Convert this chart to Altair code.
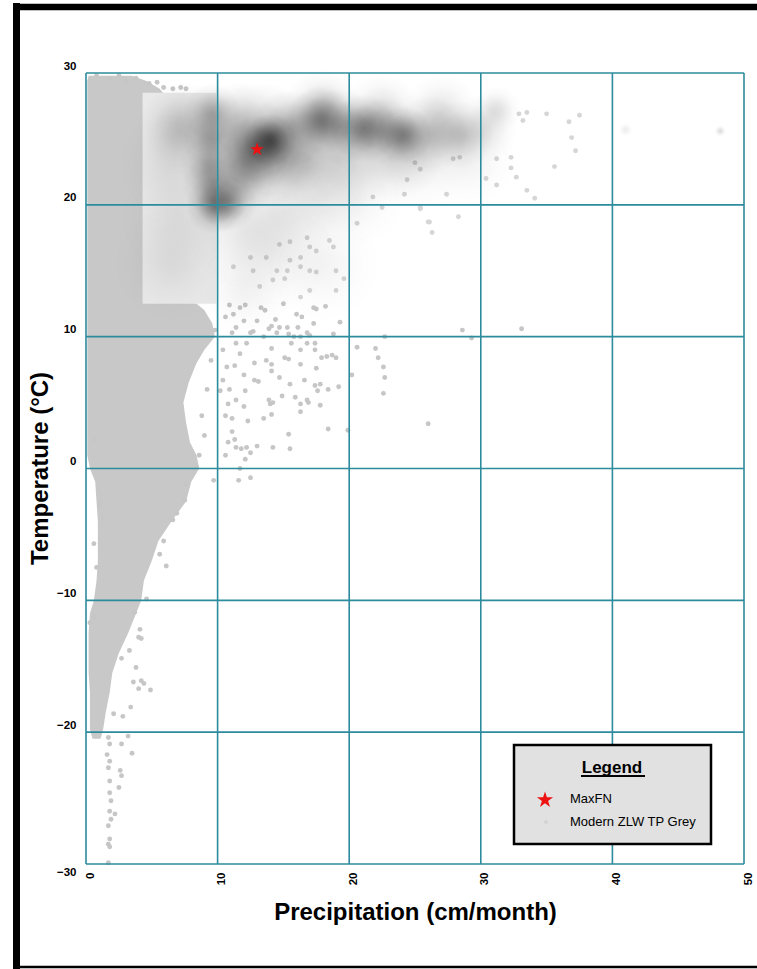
import altair as alt
import pandas as pd

# Axis ticks
precip_ticks = [0, 10, 20, 30, 40, 50]
temp_ticks = [-30, -20, -10, 0, 10, 20, 30]

# Outline of the densely sampled dry region: temperature with its min / max precipitation
core_temp = [29.8, 29.4, 28.8, 28.3, 13.0, 12.5, 12.0, 11.0, 10.0, 9.0, 8.0, 6.5, 5.0, 3.5,
             2.0, 1.0, 0.0, -1.0, -2.5, -4.0, -5.5, -7.0, -8.5, -10.0, -11.0, -12.5, -14.0,
             -15.5, -17.0, -18.5, -19.8, -20.5]
core_pmin = [0.2, 0.1, 0.1, 0.1, 0.1, 0.1, 0.1, 0.1, 0.1, 0.1, 0.1, 0.1, 0.1, 0.1,
             0.1, 0.1, 0.3, 0.7, 0.8, 0.9, 0.9, 0.9, 0.8, 0.6, 0.3, 0.2, 0.2,
             0.2, 0.3, 0.3, 0.3, 0.5]
core_pmax = [3.5, 4.6, 5.6, 6.0, 6.0, 8.4, 9.0, 9.6, 9.8, 9.0, 8.4, 7.8, 7.4, 7.6,
             7.9, 8.4, 8.6, 8.0, 7.6, 6.5, 5.5, 5.0, 4.4, 4.2, 3.8, 3.2, 2.5,
             2.0, 1.8, 1.5, 1.3, 1.1]

# Individual modern samples (precipitation, temperature)
top_edge = [(4.8, 29.2), (5.4, 29.3), (5.9, 28.9), (6.6, 28.8), (7.2, 28.9), (7.6, 28.8),
            (3.8, 29.6), (3.0, 29.4), (1.8, 29.6), (2.5, 29.8), (0.8, 29.8)]

mid_samples = [(10.9, 12.4), (11.7, 12.2), (12.1, 12.4), (13.3, 12.2), (13.6, 12.0), (15.0, 12.5),
               (16.0, 11.7), (16.4, 11.5), (17.3, 12.2), (17.5, 12.1), (18.2, 12.3), (19.3, 11.1),
               (17.3, 11.0), (14.4, 11.3), (13.0, 11.2), (12.0, 11.2), (11.2, 11.7), (10.6, 11.5),
               (11.4, 10.7), (11.1, 10.3), (12.5, 10.3), (12.7, 10.4), (13.9, 10.6), (14.1, 10.8),
               (14.7, 10.7), (15.3, 10.7), (16.1, 10.7), (16.8, 10.3), (17.0, 10.1), (15.4, 10.2),
               (14.5, 10.3), (18.8, 10.2), (13.5, 10.0), (15.8, 10.0), (16.3, 10.0), (11.4, 9.5),
               (12.2, 9.5), (15.6, 9.5), (16.8, 9.5), (17.4, 9.5), (14.1, 9.1), (16.3, 9.0),
               (17.4, 9.0), (17.9, 8.4), (18.3, 8.5), (18.7, 8.6), (19.0, 8.4), (15.1, 8.4),
               (15.4, 8.3), (11.7, 8.7), (12.8, 8.0), (13.7, 8.2), (14.1, 7.9), (16.3, 7.9),
               (17.5, 7.6), (14.1, 7.4), (10.7, 7.7), (11.3, 7.8), (14.7, 6.9), (15.5, 6.4),
               (16.6, 6.7), (17.4, 6.3), (17.8, 6.4), (17.6, 5.9), (18.4, 6.0), (19.2, 6.2),
               (12.0, 7.1), (12.1, 5.9), (12.8, 6.7), (13.1, 6.6), (10.4, 6.7), (10.9, 6.0),
               (10.2, 5.9), (11.4, 5.2), (10.8, 4.9), (13.9, 5.2), (14.0, 4.9), (14.2, 5.0),
               (14.9, 5.5), (15.9, 5.4), (16.3, 4.9), (16.8, 5.2), (16.9, 5.0), (17.8, 4.8),
               (12.0, 4.7), (16.3, 4.3), (14.1, 4.1), (13.5, 3.8), (12.3, 3.6), (11.1, 3.8),
               (10.6, 4.0), (11.1, 2.8), (15.4, 2.6), (18.4, 3.0), (10.8, 2.0), (11.3, 2.2),
               (11.4, 1.6), (11.8, 1.5), (12.2, 1.6), (12.5, 1.2), (13.0, 1.7), (14.2, 1.6),
               (15.5, 1.5), (10.6, 1.0), (12.1, 0.7), (11.7, 0.0), (11.6, -0.9), (12.5, -0.7),
               (19.9, 2.9), (20.6, 9.2), (22.0, 9.1), (22.2, 8.4), (22.6, 7.7), (22.7, 6.9),
               (22.6, 5.7), (22.7, 10.0), (20.2, 7.1), (26.0, 3.4), (28.6, 10.5), (29.3, 9.9),
               (33.1, 10.6)]

cold_samples = [(6.1, -7.4), (5.6, -6.5), (5.9, -5.5), (6.6, -3.9), (6.9, -3.4), (7.5, -2.4),
                (7.6, -1.2), (8.4, 0.1), (9.7, -0.9), (1.1, -2.7), (1.3, -3.7), (0.6, -5.7),
                (0.8, -7.5), (0.6, 2.2), (10.4, 9.0), (9.5, 8.2), (9.2, 6.0), (8.8, 4.0),
                (9.0, 2.5), (8.6, 1.0), (9.8, 10.5), (4.0, -12.8), (4.2, -12.9), (3.3, -13.8),
                (2.7, -14.4), (3.8, -15.1), (3.6, -16.2), (4.2, -16.1), (4.4, -16.3), (4.9, -16.8),
                (4.0, -16.7), (3.4, -18.1), (2.8, -18.8), (2.1, -18.6), (4.1, -12.2), (4.6, -9.9),
                (3.7, -10.9), (0.3, -11.7), (0.6, -11.3), (1.7, -20.4), (1.8, -20.9), (2.7, -20.9),
                (3.2, -20.3), (3.5, -21.6), (1.6, -21.7), (1.8, -22.2), (1.7, -22.7), (2.6, -22.9),
                (2.7, -23.3), (2.5, -24.2), (1.8, -23.7), (1.8, -24.6), (1.9, -25.2), (1.8, -26.0),
                (2.2, -26.2), (1.9, -26.6), (1.7, -27.1), (1.8, -28.1), (1.8, -28.7), (1.7, -28.5),
                (1.7, -29.9)]

faint_samples = [(14.5, 15.0), (15.3, 15.0), (16.3, 15.3), (17.0, 15.0), (17.5, 14.9), (19.0, 15.0),
                 (13.2, 13.8), (14.2, 14.3), (15.1, 14.4), (16.3, 13.0), (17.0, 13.5), (19.0, 13.5),
                 (19.6, 14.4), (12.7, 15.0), (11.2, 15.3), (12.5, 16.0), (13.7, 16.0), (15.5, 15.8),
                 (16.3, 16.0), (17.5, 16.5), (18.5, 17.3), (18.8, 16.8), (16.8, 17.5), (17.0, 16.8),
                 (14.7, 17.0), (15.5, 17.2), (20.6, 18.6), (21.8, 20.6), (22.5, 19.8), (26.1, 18.7),
                 (26.3, 17.9), (25.4, 19.7), (31.2, 23.5), (32.3, 23.6), (32.3, 22.8), (32.7, 22.1),
                 (31.2, 21.5), (30.4, 22.0), (33.5, 21.1), (34.1, 20.5), (35.6, 22.9), (36.9, 25.1),
                 (37.2, 24.1), (36.7, 26.3), (37.5, 26.8), (35.0, 26.9), (33.2, 26.4), (32.9, 26.9),
                 (33.5, 27.0), (25.4, 22.7), (27.4, 20.8), (26.0, 18.7), (28.3, 19.1), (25.4, 19.8),
                 (27.9, 23.5), (28.4, 23.6), (25.0, 23.2), (24.4, 21.9), (24.2, 20.8)]

# Shaded sampling window
box_precip = [4.3, 9.9]
box_temp = [12.5, 28.5]

# Sample density clusters: centre, darkness weight, relative spread
haze_precip = [14.0, 13.0, 13.2, 12.0, 15.0, 11.5, 15.5, 17.8, 19.3, 21.1, 22.6, 24.1, 26.1, 28.4,
               30.2, 31.2, 17.0, 20.0, 23.5, 18.0, 22.5, 27.0, 9.6, 9.5, 9.3, 9.5, 9.8, 10.8,
               11.5, 7.5, 6.5, 7.0, 6.5, 12.0, 15.0, 17.5, 41.0, 48.2,
               14.0, 18.0, 12.0, 25.0, 29.0, 7.0, 20.0]
haze_temp = [24.9, 24.2, 24.5, 23.0, 23.5, 26.0, 25.8, 26.4, 25.9, 25.8, 25.6, 25.3, 25.3, 25.3,
             25.8, 27.2, 23.5, 23.5, 24.0, 27.3, 27.0, 27.0, 27.0, 25.0, 23.0, 21.5, 20.0, 20.2,
             21.8, 26.0, 23.0, 19.0, 15.5, 18.0, 19.5, 20.5, 25.7, 25.6,
             16.5, 15.5, 13.5, 24.0, 23.5, 25.5, 21.0]
haze_weight = [0.6, 0.4, 0.3, 0.25, 0.22, 0.2, 0.3, 0.45, 0.3, 0.45, 0.25, 0.42, 0.22, 0.22,
               0.12, 0.12, 0.2, 0.15, 0.15, 0.18, 0.15, 0.12, 0.28, 0.28, 0.28, 0.28, 0.45, 0.35,
               0.22, 0.15, 0.08, 0.07, 0.07, 0.08, 0.08, 0.07, 0.08, 0.15,
               0.07, 0.05, 0.05, 0.1, 0.06, 0.1, 0.07]
haze_spread = [0.55, 0.7, 1.3, 0.9, 0.9, 0.9, 0.8, 0.7, 0.8, 0.7, 0.7, 0.6, 0.8, 0.7,
               0.7, 0.5, 1.0, 1.0, 1.0, 0.8, 0.8, 0.8, 0.6, 0.6, 0.6, 0.6, 0.6, 0.6,
               0.8, 0.9, 1.1, 1.2, 1.2, 1.2, 1.1, 1.1, 0.15, 0.12,
               1.3, 1.2, 1.0, 1.2, 1.0, 0.9, 1.2]

# MaxFN estimate
maxfn_precip = [13.0]
maxfn_temp = [24.2]

legend_title = "Legend"
legend_labels = ["MaxFN", "Modern ZLW TP Grey"]

FONT = "Liberation Sans"
TEAL = "#2c8b9c"
GREY = "#c8c8c8"
RED = "#ee1111"
# five-pointed star outline in the unit symbol box
STAR = ("M0,-1L0.2245,-0.309L0.951,-0.309L0.363,0.118L0.588,0.809L0,0.382"
        "L-0.588,0.809L-0.363,0.118L-0.951,-0.309L-0.2245,-0.309Z")

xs = alt.Scale(domain=[0, 50], nice=False, zero=False)
ys = alt.Scale(domain=[-30, 30], nice=False, zero=False)

x_axis = alt.Axis(orient="bottom", values=precip_ticks, grid=False, domain=False, ticks=False,
                  labelAngle=270, labelFont=FONT, labelFontWeight="bold",
                  labelFontSize=11.5, labelColor="black", labelPadding=8, labelOffset=4,
                  title="Precipitation (cm/month)", titleFont=FONT, titleFontSize=24,
                  titleFontWeight="bold", titleColor="black", titleY=48,
                  titleBaseline="middle")
y_axis = alt.Axis(orient="left", values=temp_ticks, grid=False, domain=False, ticks=False,
                  labelFont=FONT, labelFontWeight="bold", labelFontSize=11.5,
                  labelColor="black", labelPadding=10,
                  labelOffset={"condition": {"test": "datum.value == -30", "value": 8},
                               "value": -7},
                  title="Temperature (°C)", titleFont=FONT, titleFontSize=24,
                  titleFontWeight="bold", titleColor="black",
                  titleX=-46, titleY=395, titleBaseline="middle", titleAngle=270)


def X(field):
    return alt.X(field, scale=xs, axis=x_axis)


def Y(field):
    return alt.Y(field, scale=ys, axis=y_axis)


def samples(pairs):
    return pd.DataFrame(pairs, columns=["precip", "temp"])


core_df = pd.DataFrame({"precip": core_pmin, "pmax": core_pmax, "temp": core_temp}).sort_values("temp")
core = alt.Chart(core_df).mark_area(orient="horizontal", color=GREY, opacity=1).encode(
    y=Y("temp:Q"), x=X("precip:Q"), x2="pmax:Q")

all_grey = pd.concat([samples(top_edge), samples(mid_samples), samples(cold_samples)])
grey_pts = alt.Chart(all_grey).mark_circle(color="#c6c6c6", opacity=1, size=24).encode(
    x=X("precip:Q"), y=Y("temp:Q"))

box_df = pd.DataFrame({"precip": [box_precip[0]], "p1": [box_precip[1]],
                       "temp": [box_temp[0]], "t1": [box_temp[1]]})
box = alt.Chart(box_df).mark_rect(color="#e9e9e9", opacity=1).encode(
    x=X("precip:Q"), x2="p1:Q", y=Y("temp:Q"), y2="t1:Q")

faint_pts = alt.Chart(samples(faint_samples)).mark_circle(color="#d6d6d6", opacity=1, size=24).encode(
    x=X("precip:Q"), y=Y("temp:Q"))

haze_fill = {
    "gradient": "radial", "x1": 0.5, "y1": 0.5, "r1": 0, "x2": 0.5, "y2": 0.5, "r2": 0.5,
    "stops": [
        {"offset": 0.0, "color": "rgba(24,24,24,1)"},
        {"offset": 0.2, "color": "rgba(24,24,24,0.85)"},
        {"offset": 0.45, "color": "rgba(24,24,24,0.5)"},
        {"offset": 0.7, "color": "rgba(24,24,24,0.18)"},
        {"offset": 1.0, "color": "rgba(24,24,24,0)"},
    ],
}
haze_df = pd.DataFrame({"precip": haze_precip, "temp": haze_temp,
                        "weight": haze_weight, "spread": haze_spread})
haze = alt.Chart(haze_df).mark_circle(color=haze_fill, strokeWidth=0).encode(
    x=X("precip:Q"), y=Y("temp:Q"),
    opacity=alt.Opacity("weight:Q", scale=alt.Scale(domain=[0, 1], range=[0, 1]), legend=None),
    size=alt.Size("spread:Q", scale=alt.Scale(type="pow", exponent=2, domain=[0, 1],
                                              range=[0, 9500]), legend=None),
)

grid_x = alt.Chart(pd.DataFrame({"precip": precip_ticks})).mark_rule(
    color=TEAL, strokeWidth=1.6).encode(x=X("precip:Q"))
grid_y = alt.Chart(pd.DataFrame({"temp": temp_ticks})).mark_rule(
    color=TEAL, strokeWidth=1.6).encode(y=Y("temp:Q"))

star = alt.Chart(pd.DataFrame({"precip": maxfn_precip, "temp": maxfn_temp})).mark_point(
    shape=STAR, filled=True, color=RED, size=210, opacity=1).encode(
    x=X("precip:Q"), y=Y("temp:Q"))

one = alt.Data(values=[{"k": 0}])

legend_box = alt.Chart(one).mark_rect(fill="#e1e1e1", stroke="black", strokeWidth=2.5).encode(
    x=alt.value(428), x2=alt.value(625), y=alt.value(672), y2=alt.value(771))
legend_head = alt.Chart(one).mark_text(font=FONT, fontSize=17, fontWeight="bold", color="black",
                                       align="center", baseline="alphabetic").encode(
    x=alt.value(526), y=alt.value(700), text=alt.value(legend_title))
legend_ul = alt.Chart(one).mark_rule(color="black", strokeWidth=1.8).encode(
    x=alt.value(495), x2=alt.value(559), y=alt.value(703))
legend_star = alt.Chart(one).mark_point(shape=STAR, filled=True, color=RED, size=290,
                                        opacity=1).encode(x=alt.value(459), y=alt.value(727))
legend_dot = alt.Chart(one).mark_circle(color="#d4d4d4", size=16, opacity=1).encode(
    x=alt.value(460), y=alt.value(749))
legend_t1 = alt.Chart(one).mark_text(font=FONT, fontSize=13, color="black", align="left",
                                     baseline="middle").encode(
    x=alt.value(484), y=alt.value(726), text=alt.value(legend_labels[0]))
legend_t2 = alt.Chart(one).mark_text(font=FONT, fontSize=13, color="black", align="left",
                                     baseline="middle").encode(
    x=alt.value(484), y=alt.value(749), text=alt.value(legend_labels[1]))

# Page frame
frame_left = alt.Chart(one).mark_rule(color="black", strokeWidth=7).encode(
    x=alt.value(-69.5), y=alt.value(-70), y2=alt.value(900))
frame_top = alt.Chart(one).mark_rule(color="black", strokeWidth=6.5).encode(
    x=alt.value(-73), x2=alt.value(680), y=alt.value(-66))
frame_bottom = alt.Chart(one).mark_rule(color="black", strokeWidth=2.5).encode(
    x=alt.value(-73), x2=alt.value(680), y=alt.value(894))

chart = alt.layer(
    core, grey_pts, box, faint_pts, haze, grid_x, grid_y, star,
    legend_box, legend_head, legend_ul, legend_star, legend_dot, legend_t1, legend_t2,
    frame_left, frame_top, frame_bottom,
).properties(
    width=658, height=791,
    padding={"left": 86, "top": 73, "right": 13, "bottom": 105},
    autosize=alt.AutoSizeParams(type="none"),
    background="white",
).configure_view(stroke=None)

chart.save("out.html", embed_options={"renderer": "svg", "actions": False})
